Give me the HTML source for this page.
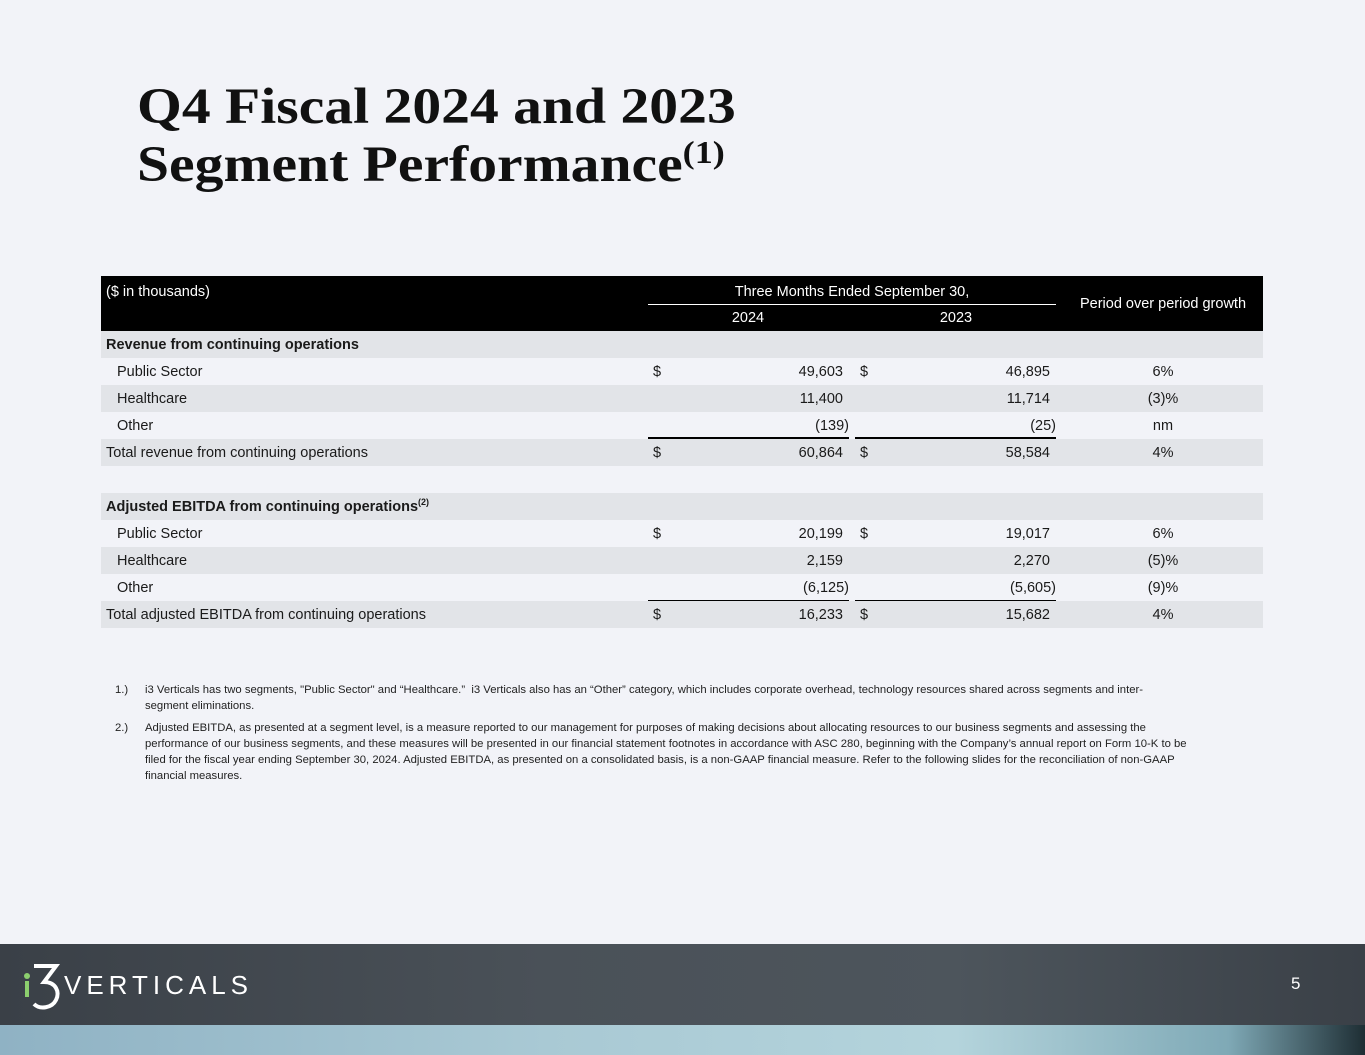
<!DOCTYPE html>
<html><head><meta charset="utf-8">
<style>
body{margin:0;width:1365px;height:1055px;background:#f2f3f8;position:relative;overflow:hidden;font-family:"Liberation Sans",sans-serif;color:#1a1a1a}
.abs{position:absolute}
h1{position:absolute;left:137px;top:78px;margin:0;font-family:"Liberation Serif",serif;font-weight:bold;font-size:51px;line-height:58px;color:#111;transform:scaleX(1.13);transform-origin:left top;white-space:nowrap}
h1 sup{font-size:32px;vertical-align:18px;line-height:0}
.row{position:absolute;left:101px;width:1162px;height:27px;font-size:14.5px;line-height:29px}
.g{background:#e2e4e8}
.lab{position:absolute;left:5px}
.ind{left:16px}
.d1{position:absolute;left:552px}
.n1{position:absolute;right:420px}
.d2{position:absolute;left:759px}
.n2{position:absolute;right:213px}
.p{position:absolute;left:1012px;width:100px;text-align:center}
.fn{position:absolute;font-size:11.3px;line-height:16px;color:#222}
</style></head><body>
<h1>Q4 Fiscal 2024 and 2023<br>Segment Performance<sup>(1)</sup></h1>

<div class="abs" style="left:101px;top:276px;width:1162px;height:55px;background:#000;color:#fff;font-size:14.5px">
 <div class="abs" style="left:5px;top:8px">($ in thousands)</div>
 <div class="abs" style="left:547px;width:408px;top:8px;text-align:center">Three Months Ended September 30,</div>
 <div class="abs" style="left:547px;width:408px;top:28px;height:1px;background:#fff"></div>
 <div class="abs" style="left:547px;width:200px;top:34px;text-align:center">2024</div>
 <div class="abs" style="left:755px;width:200px;top:34px;text-align:center">2023</div>
 <div class="abs" style="left:962px;width:200px;top:20px;text-align:center">Period over period growth</div>
</div>

<div class="row g" style="top:331px"><b class="lab">Revenue from continuing operations</b></div>
<div class="row" style="top:358px"><span class="lab ind">Public Sector</span><span class="d1">$</span><span class="n1">49,603</span><span class="d2">$</span><span class="n2">46,895</span><span class="p">6%</span></div>
<div class="row g" style="top:385px"><span class="lab ind">Healthcare</span><span class="n1">11,400</span><span class="n2">11,714</span><span class="p">(3)%</span></div>
<div class="row" style="top:412px"><span class="lab ind">Other</span><span class="n1" style="right:414px">(139)</span><span class="n2" style="right:207px">(25)</span><span class="p">nm</span></div>
<div class="abs" style="left:648px;top:437px;width:201px;height:2px;background:#000"></div>
<div class="abs" style="left:855px;top:437px;width:201px;height:2px;background:#000"></div>
<div class="row g" style="top:439px"><span class="lab">Total revenue from continuing operations</span><span class="d1">$</span><span class="n1">60,864</span><span class="d2">$</span><span class="n2">58,584</span><span class="p">4%</span></div>
<div class="row" style="top:466px"></div>
<div class="row g" style="top:493px"><b class="lab">Adjusted EBITDA from continuing operations<sup style="font-size:9px;line-height:0">(2)</sup></b></div>
<div class="row" style="top:520px"><span class="lab ind">Public Sector</span><span class="d1">$</span><span class="n1">20,199</span><span class="d2">$</span><span class="n2">19,017</span><span class="p">6%</span></div>
<div class="row g" style="top:547px"><span class="lab ind">Healthcare</span><span class="n1">2,159</span><span class="n2">2,270</span><span class="p">(5)%</span></div>
<div class="row" style="top:574px"><span class="lab ind">Other</span><span class="n1" style="right:414px">(6,125)</span><span class="n2" style="right:207px">(5,605)</span><span class="p">(9)%</span></div>
<div class="abs" style="left:648px;top:600px;width:201px;height:2px;background:#000"></div>
<div class="abs" style="left:855px;top:600px;width:201px;height:2px;background:#000"></div>
<div class="row g" style="top:601px"><span class="lab">Total adjusted EBITDA from continuing operations</span><span class="d1">$</span><span class="n1">16,233</span><span class="d2">$</span><span class="n2">15,682</span><span class="p">4%</span></div>

<div class="fn" style="left:115px;top:682px">1.)</div>
<div class="fn" style="left:145px;top:682px;width:1030px">i3 Verticals has two segments, "Public Sector" and “Healthcare.”&nbsp; i3 Verticals also has an “Other” category, which includes corporate overhead, technology resources shared across segments and inter-segment eliminations.</div>
<div class="fn" style="left:115px;top:720px">2.)</div>
<div class="fn" style="left:145px;top:720px;width:1060px">Adjusted EBITDA, as presented at a segment level, is a measure reported to our management for purposes of making decisions about allocating resources to our business segments and assessing the performance of our business segments, and these measures will be presented in our financial statement footnotes in accordance with ASC 280, beginning with the Company’s annual report on Form 10-K to be filed for the fiscal year ending September 30, 2024. Adjusted EBITDA, as presented on a consolidated basis, is a non-GAAP financial measure. Refer to the following slides for the reconciliation of non-GAAP financial measures.</div>

<div class="abs" style="left:0;top:944px;width:1365px;height:81px;background:linear-gradient(90deg,#3a4047 0%,#4a5158 40%,#4d555c 70%,#3a4047 100%)"></div>
<div class="abs" style="left:0;top:1025px;width:1365px;height:30px;background:linear-gradient(90deg,#8fb2c4 0%,#a9c9d4 40%,#b4d4dc 70%,#7fa9b6 90%,#1e2e34 100%)"></div>
<div class="abs" style="left:22px;top:962px;height:50px;color:#fff">
 <svg width="46" height="50" style="position:absolute;left:0;top:0"><circle cx="5" cy="14" r="3" fill="#8ccf6e"/><rect x="3" y="19" width="4" height="16" fill="#8ccf6e"/><path d="M12 4 L34 4 L22 20 C34 20 38 30 34 38 C30 46 18 48 12 42" stroke="#fff" stroke-width="4" fill="none"/></svg>
 <span style="position:absolute;left:42px;top:8px;font-size:26px;letter-spacing:5px;white-space:nowrap">VERTICALS</span>
</div>
<div class="abs" style="left:1291px;top:974px;color:#fff;font-size:17px">5</div>
</body></html>
